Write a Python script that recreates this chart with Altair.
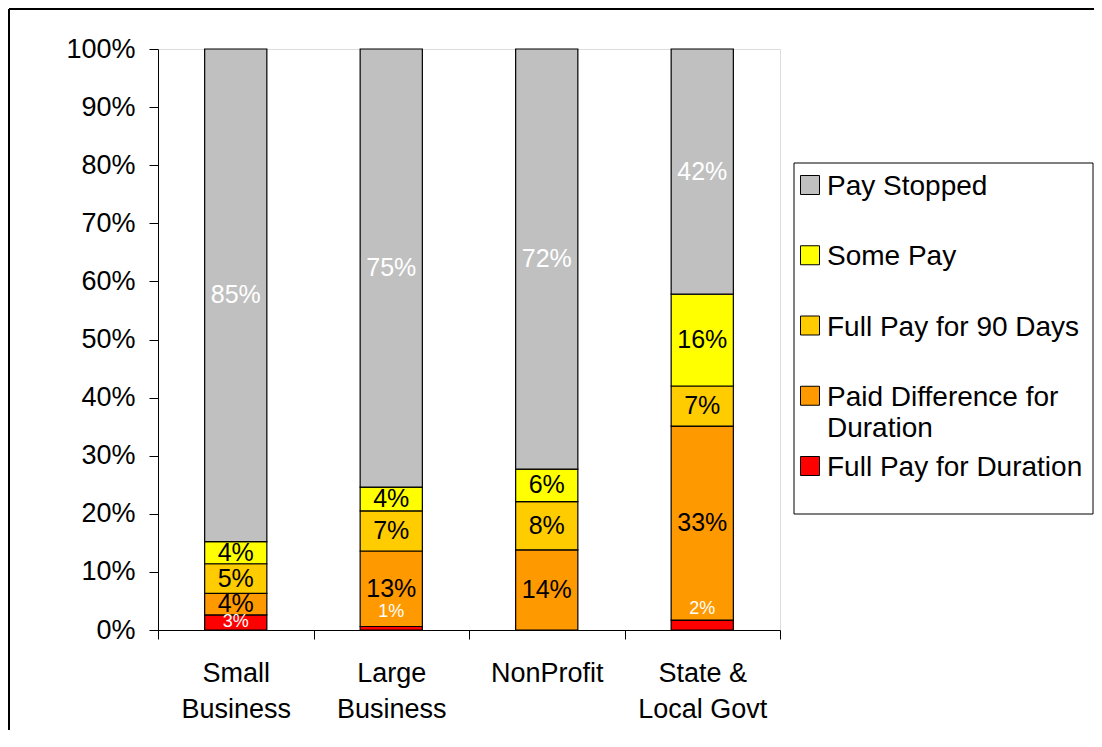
import json
import altair as alt
import pandas as pd

FONT = "Liberation Sans"

categories = ["Small Business", "Large Business", "NonProfit", "State & Local Govt"]
category_lines = [["Small", "Business"], ["Large", "Business"], ["NonProfit"], ["State &", "Local Govt"]]

series = ["Full Pay for Duration", "Paid Difference for Duration", "Full Pay for 90 Days", "Some Pay", "Pay Stopped"]
colors = ["#FF0000", "#FF9900", "#FFCC00", "#FFFF00", "#C0C0C0"]

full_pay_duration = [2.6, 0.6, 0.0, 1.7]
paid_difference = [3.7, 13.0, 13.8, 33.4]
full_pay_90 = [5.1, 6.9, 8.3, 6.9]
some_pay = [3.8, 4.1, 5.6, 15.8]
pay_stopped = [84.8, 75.4, 72.3, 42.2]

legend_order = ["Pay Stopped", "Some Pay", "Full Pay for 90 Days", "Paid Difference for Duration", "Full Pay for Duration"]
legend_text = ["Pay Stopped", "Some Pay", "Full Pay for 90 Days", "Paid Difference for\nDuration", "Full Pay for Duration"]

y_ticks = [round(i / 10, 1) for i in range(11)]

# ---- data tables ----
series_values = [full_pay_duration, paid_difference, full_pay_90, some_pay, pay_stopped]
rows = []
for ci, cat in enumerate(categories):
    for si, s in enumerate(series):
        rows.append({"category": cat, "series": s, "order": si, "value": series_values[si][ci]})
df = pd.DataFrame(rows)

legend_df = pd.DataFrame({"series": legend_order, "text": legend_text, "idx": list(range(len(legend_order)))})
one = pd.DataFrame({"k": [0]})

# label expression for two-line category labels
parts = []
for cat, lines in zip(categories, category_lines):
    parts.append(f"datum.value == {json.dumps(cat)} ? {json.dumps(lines)} : ")
label_expr = "".join(parts) + "datum.label"

xaxis = alt.Axis(title=None, labelExpr=label_expr, labelAngle=0, labelFontSize=27, labelFont=FONT,
                 labelColor="black", labelLineHeight=36, labelBaseline="top", labelPadding=21,
                 tickSize=9, tickColor="black", tickWidth=1, domainColor="black", domainWidth=1,
                 tickBand="extent", grid=False, labelLimit=300)
yaxis = alt.Axis(title=None, values=y_ticks, format=".0%", labelFontSize=27, labelFont=FONT,
                 labelColor="black", labelPadding=14, tickSize=9, tickColor="black", tickWidth=1,
                 domainColor="black", domainWidth=1, grid=False)
yscale = alt.Scale(domain=[0, 1], nice=False)
X = alt.X("category:N", sort=categories, scale=alt.Scale(paddingInner=0, paddingOuter=0), axis=xaxis)
color = alt.Color("series:N", scale=alt.Scale(domain=series, range=colors), legend=None)

bars = alt.Chart().mark_bar(width=alt.RelativeBandSize(0.4), stroke="black", strokeWidth=1.2).encode(
    x=X, y=alt.Y("y0:Q", scale=yscale, axis=yaxis), y2="y1:Q", color=color
)

text_main = alt.Chart().transform_filter("datum.series != 'Full Pay for Duration'").mark_text(
    font=FONT, fontSize=25, baseline="middle"
).encode(
    x=X, y=alt.Y("mid:Q", scale=yscale, axis=yaxis), text="label:N",
    color=alt.condition("datum.series == 'Pay Stopped'", alt.value("white"), alt.value("black"))
)

text_red = alt.Chart().transform_filter(
    "datum.series == 'Full Pay for Duration' && datum.value >= 2"
).mark_text(font=FONT, fontSize=18, baseline="middle", color="white").encode(
    x=X, y=alt.Y("mid:Q", scale=yscale, axis=yaxis), text="label:N"
)

text_tiny = alt.Chart().transform_filter(
    "datum.series == 'Full Pay for Duration' && datum.value > 0 && datum.value < 2"
).mark_text(font=FONT, fontSize=18, baseline="middle", color="white", dy=-16).encode(
    x=X, y=alt.Y("mid:Q", scale=yscale, axis=yaxis), text="label:N"
)

main = alt.layer(bars, text_main, text_red, text_tiny, data=df).transform_stack(
    stack="value", groupby=["category"], as_=["y0", "y1"], offset="normalize",
    sort=[alt.SortField("order", order="ascending")]
).transform_calculate(
    mid="(datum.y0 + datum.y1) / 2",
    label="format(datum.value, '.0f') + '%'"
)

# ---- legend ----
box = alt.Chart(one).mark_rect(fill="white", stroke="black", strokeWidth=1).encode(
    x=alt.value(636), x2=alt.value(935), y=alt.value(114), y2=alt.value(465)
)
ly = alt.Y("idx:Q", scale=alt.Scale(domain=[0, 4], range=[136, 417]), axis=None)
leg_sq = alt.Chart(legend_df).mark_square(size=361, stroke="black", strokeWidth=1, opacity=1).encode(
    x=alt.value(652), y=ly, color=color
)
leg_txt = alt.Chart(legend_df).mark_text(
    font=FONT, fontSize=28, align="left", baseline="alphabetic", dy=10, lineBreak="\n", lineHeight=31, color="black"
).encode(x=alt.value(669), y=ly, text="text:N")
legend = alt.layer(box, leg_sq, leg_txt)

# ---- outer frame ----
frame_left = alt.Chart(one).mark_rule(color="black", strokeWidth=2).encode(
    x=alt.value(-149), y=alt.value(-40), y2=alt.value(681)
)
frame_top = alt.Chart(one).mark_rule(color="black", strokeWidth=2).encode(
    x=alt.value(-149), x2=alt.value(936), y=alt.value(-40)
)

chart = alt.layer(main, legend, frame_left, frame_top).resolve_scale(y="independent").properties(
    width=622, height=581,
    autosize=alt.AutoSizeParams(type="none"),
    padding={"left": 150, "top": 41, "right": 314, "bottom": 100},
    background="white",
).configure_view(stroke="#999999", strokeWidth=1.5).configure(font=FONT)

chart.save("out.html", embed_options={"renderer": "svg", "actions": False})
